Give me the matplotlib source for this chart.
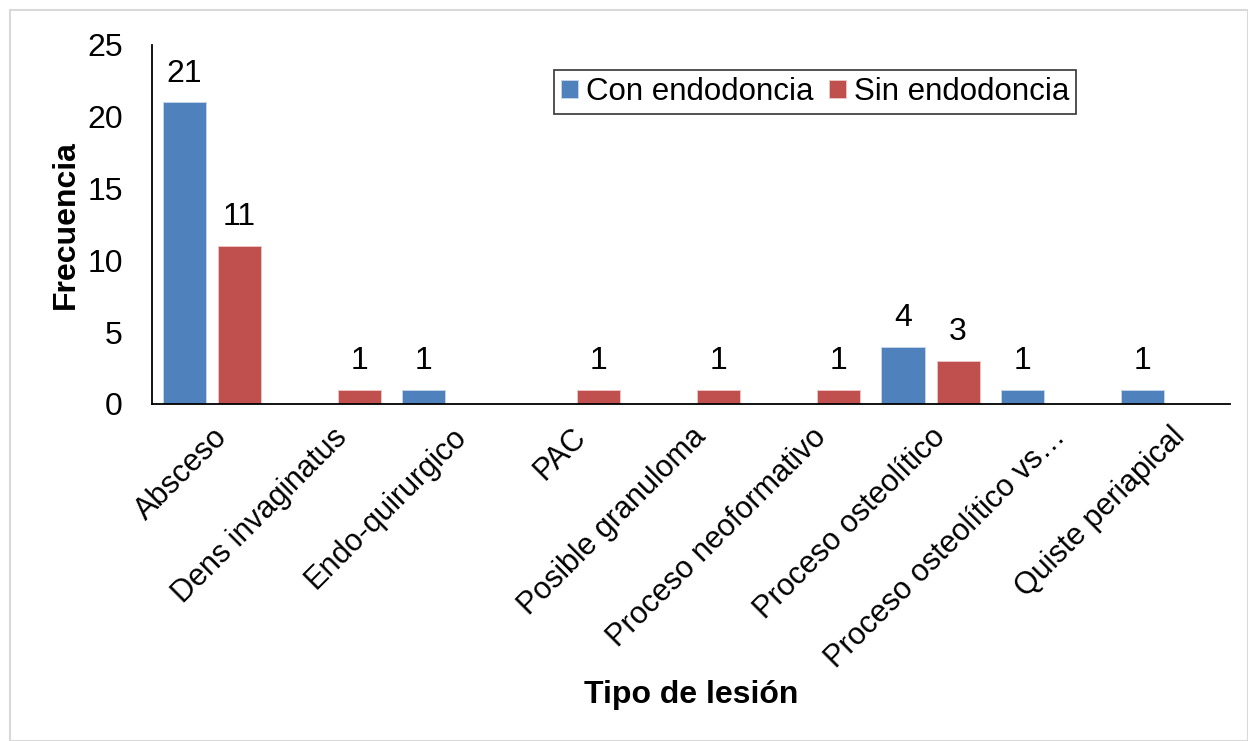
import matplotlib.pyplot as plt
import numpy as np
from matplotlib.patches import Rectangle

plt.rcParams['font.family'] = ['Liberation Sans', 'DejaVu Sans']

# Datos
categorias = ["Absceso", "Dens invaginatus", "Endo-quirurgico", "PAC",
              "Posible granuloma", "Proceso neoformativo", "Proceso osteolítico",
              "Proceso osteolítico vs…", "Quiste periapical"]
con_endo = [21, 0, 1, 0, 0, 0, 4, 1, 1]
sin_endo = [11, 1, 0, 1, 1, 1, 3, 0, 0]

fig = plt.figure(figsize=(12.48, 7.41), dpi=100)
ax = fig.add_axes([0.1218, 0.4548, 0.8638, 0.4845])

# Marco gris de la figura
fig.patches.append(Rectangle((0.008, 0.0), 0.992, 0.987, transform=fig.transFigure,
                             fill=False, edgecolor="#d9d9d9", linewidth=1.5))

x = np.arange(len(categorias))
ancho = 0.36
off = 0.23
b1 = ax.bar(x - off, con_endo, ancho, color="#4F81BD", edgecolor="#c9d7ea", linewidth=0.6,
            label="Con endodoncia")
b2 = ax.bar(x + off, sin_endo, ancho, color="#C0504D", edgecolor="#ecc8c7", linewidth=0.6,
            label="Sin endodoncia")

# Etiquetas de valores (solo si > 0)
for barras, vals in [(b1, con_endo), (b2, sin_endo)]:
    for b, v in zip(barras, vals):
        if v > 0:
            ax.annotate(str(v), (b.get_x() + b.get_width() / 2, v),
                        xytext=(0, 10), textcoords="offset points",
                        ha="center", va="bottom", fontsize=23)

ax.set_xlim(-0.5, len(categorias) - 0.5)
ax.set_ylim(0, 25)
ax.set_yticks([0, 5, 10, 15, 20, 25])
ax.set_xticks(x)
ax.set_xticklabels(categorias, rotation=45, ha="right", rotation_mode="anchor", fontsize=22)
ax.tick_params(axis="y", labelsize=23, length=0, pad=21)
ax.tick_params(axis="x", length=0, pad=13)

for s in ["top", "right"]:
    ax.spines[s].set_visible(False)
ax.spines["left"].set_linewidth(1.3)
ax.spines["bottom"].set_linewidth(1.3)

ax.set_ylabel("Frecuencia", fontsize=23, fontweight="bold")
ax.yaxis.set_label_coords(-0.066, 0.5)
fig.text(0.554, 0.062, "Tipo de lesión", fontsize=23, fontweight="bold",
         ha="center", va="center")

leg = ax.legend(loc="upper left", bbox_to_anchor=(0.373, 0.930), ncol=2, fontsize=22.5,
                frameon=True, fancybox=False, handlelength=0.55, handleheight=0.55,
                handletextpad=0.25, columnspacing=0.5, borderpad=0.22, borderaxespad=0)
leg.get_frame().set_edgecolor("black")
leg.get_frame().set_linewidth(1.2)

plt.savefig("out.png", dpi=100)
